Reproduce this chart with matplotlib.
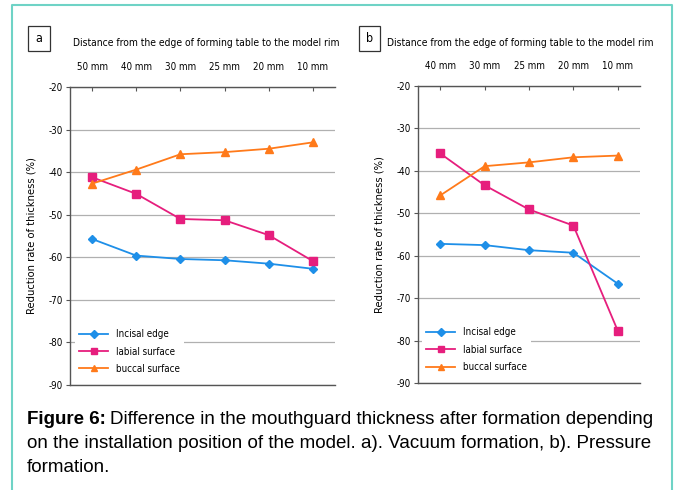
import matplotlib.pyplot as plt
from matplotlib.patches import Rectangle
from matplotlib import font_manager
import numpy as np

# Data
cats_a = ["50 mm", "40 mm", "30 mm", "25 mm", "20 mm", "10 mm"]
incisal_a = [-55.7, -59.6, -60.4, -60.7, -61.5, -62.7]
labial_a = [-41.2, -45.1, -51.0, -51.3, -54.8, -60.9]
buccal_a = [-42.7, -39.4, -35.8, -35.3, -34.5, -33.0]

cats_b = ["40 mm", "30 mm", "25 mm", "20 mm", "10 mm"]
incisal_b = [-57.2, -57.5, -58.7, -59.3, -66.6]
labial_b = [-35.9, -43.4, -49.1, -52.9, -77.7]
buccal_b = [-45.8, -38.9, -38.0, -36.8, -36.4]

yticks = [-20, -30, -40, -50, -60, -70, -80, -90]
series_names = ["Incisal edge", "labial surface", "buccal surface"]
title_txt = "Distance from the edge of forming table to the model rim"
ylabel_txt = "Reduction rate of thickness (%)"

BLUE = "#1e8fe8"
PINK = "#e61e7d"
ORANGE = "#ff7a1a"

# pick a condensed face if one is installed
names = {f.name for f in font_manager.fontManager.ttflist}
condensed = [f for f in font_manager.fontManager.ttflist
             if f.name == "DejaVu Sans" and f.stretch == "condensed"]
if "Liberation Sans Narrow" in names:
    chart_font = ["Liberation Sans Narrow"]
    stretch = "normal"
elif condensed:
    chart_font = ["DejaVu Sans"]
    stretch = "condensed"
else:
    chart_font = ["DejaVu Sans"]
    stretch = "normal"
font_kw = dict(family=chart_font, stretch=stretch)

fig = plt.figure(figsize=(6.75, 4.9), dpi=100)
W, H = 675, 490


def px(x0, y0, x1, y1):
    return [x0 / W, 1 - y1 / H, (x1 - x0) / W, (y1 - y0) / H]


def panel(rect, cats, incisal, labial, buccal, leg_anchor):
    ax = fig.add_axes(rect)
    x = np.arange(len(cats))
    ax.plot(x, incisal, color=BLUE, marker="D", ms=4.5, lw=1.3, label=series_names[0])
    ax.plot(x, labial, color=PINK, marker="s", ms=5.5, lw=1.3, label=series_names[1])
    ax.plot(x, buccal, color=ORANGE, marker="^", ms=6, lw=1.3, label=series_names[2])
    ax.set_xlim(-0.5, len(cats) - 0.5)
    ax.set_ylim(-90, -20)
    ax.set_yticks(yticks)
    ax.set_yticklabels([str(v) for v in yticks], fontsize=7, **font_kw)
    ax.xaxis.tick_top()
    ax.set_xticks(x)
    ax.set_xticklabels(cats, fontsize=7, **font_kw)
    ax.tick_params(axis="x", direction="in", length=3, pad=11, color="#555555")
    ax.tick_params(axis="y", direction="out", length=3, pad=2, color="#555555")
    ax.grid(axis="y", color="#b0b0b0", lw=0.9)
    ax.set_axisbelow(True)
    for s in ["top", "left", "bottom"]:
        ax.spines[s].set_color("#555555")
        ax.spines[s].set_linewidth(1.0)
    ax.spines["right"].set_visible(False)
    ax.set_ylabel(ylabel_txt, fontsize=8, labelpad=9, **font_kw)
    leg = ax.legend(loc="upper left", bbox_to_anchor=leg_anchor, frameon=True,
                    fancybox=False, edgecolor="none", facecolor="white", framealpha=1,
                    prop={"family": chart_font, "stretch": stretch, "size": 7},
                    handlelength=3, labelspacing=0.75, borderaxespad=0)
    for h in leg.legend_handles:
        h.set_markersize(4.5)
    return ax


panel(px(70, 87, 335, 385), cats_a, incisal_a, labial_a, buccal_a, (0.02, 0.2))
panel(px(418, 86, 640, 383), cats_b, incisal_b, labial_b, buccal_b, (0.02, 0.2))

# panel labels and titles
for (x0, x1, lab, tx) in [(28, 50, "a", 73), (359, 380, "b", 387)]:
    fig.patches.append(Rectangle((x0 / W, 1 - 51 / H), (x1 - x0) / W, 25 / H,
                                 transform=fig.transFigure, fill=False,
                                 edgecolor="#333333", lw=0.9))
    fig.text((x0 + x1) / 2 / W, 1 - 39 / H, lab, ha="center", va="center",
             fontsize=9, **font_kw)
    t = fig.text(tx / W, 1 - 43 / H, title_txt, ha="left", va="center",
                 fontsize=7.5, **font_kw)
    # fit the title into the width seen in the reference
    r = fig.canvas.get_renderer()
    wpx = t.get_window_extent(r).width
    t.set_fontsize(7.5 * min(1.0, 266 / wpx))

# caption
cap_size = 13.5
cap_lines = ["Difference in the mouthguard thickness after formation depending",
             "on the installation position of the model. a). Vacuum formation, b). Pressure",
             "formation."]
r = fig.canvas.get_renderer()
t0 = fig.text(27 / W, 1 - 419 / H, "Figure 6:", fontsize=cap_size, va="center",
              family="Liberation Sans", weight="bold")
bw = t0.get_window_extent(r).width
fig.text((27 + bw + 4) / W, 1 - 419 / H, cap_lines[0], fontsize=cap_size,
         va="center", family="Liberation Sans")
fig.text(27 / W, 1 - 443 / H, cap_lines[1], fontsize=cap_size, va="center", family="Liberation Sans")
fig.text(27 / W, 1 - 467 / H, cap_lines[2], fontsize=cap_size, va="center", family="Liberation Sans")

# outer border
fig.lines.append(plt.Line2D([11.5 / W, 11.5 / W, 671.5 / W, 671.5 / W],
                            [0, 1 - 5 / H, 1 - 5 / H, 0], transform=fig.transFigure,
                            color="#6fd3c6", lw=1.5))

fig.savefig("out.png", dpi=100)
